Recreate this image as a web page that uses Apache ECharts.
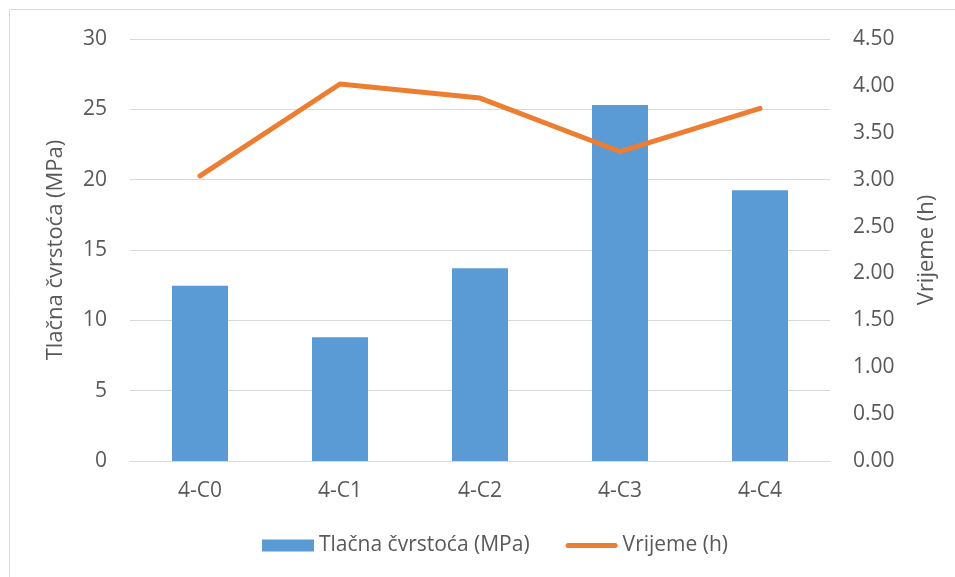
<!DOCTYPE html>
<html>
<head>
<meta charset="utf-8">
<script src="https://cdn.jsdelivr.net/npm/echarts@6/dist/echarts.min.js"></script>
<style>
  html, body { margin: 0; padding: 0; background: #fff; }
  #chart { width: 955px; height: 577px; }
</style>
</head>
<body>
<div id="chart"></div>
<script>
// podaci
const categories = ['4-C0', '4-C1', '4-C2', '4-C3', '4-C4'];
const strength = [12.45, 8.8, 13.7, 25.3, 19.25];   // Tlačna čvrstoća (MPa)
const timeHours = [3.04, 4.02, 3.87, 3.30, 3.76];   // Vrijeme (h)

const font = '"Open Sans", "Noto Sans", sans-serif';
const txt = '#595959';

const chart = echarts.init(document.getElementById('chart'));
chart.setOption({
  animation: false,
  textStyle: { fontFamily: font },
  graphic: [{
    type: 'rect',
    shape: { x: 9.5, y: 9.5, width: 960, height: 580 },
    style: { fill: 'none', stroke: '#d9d9d9', lineWidth: 1 },
    silent: true
  }],
  grid: { left: 130, right: 125, top: 39, bottom: 116 },
  legend: {
    bottom: 16,
    left: 257,
    itemWidth: 52,
    itemHeight: 12,
    itemGap: 36,
    textStyle: { color: txt, fontSize: 21, fontFamily: font },
    data: [
      { name: 'Tlačna čvrstoća (MPa)', icon: 'rect' },
      // samo linija bez kružića
      { name: 'Vrijeme (h)', icon: 'path://M2.5,0 H49.5 A2.5,2.5 0 0 1 49.5,5 H2.5 A2.5,2.5 0 0 1 2.5,0 Z' }
    ]
  },
  xAxis: {
    type: 'category',
    data: categories,
    axisLine: { lineStyle: { color: '#d9d9d9', width: 1 } },
    axisTick: { show: false },
    axisLabel: { color: txt, fontSize: 21, margin: 20 }
  },
  yAxis: [
    {
      type: 'value',
      min: 0, max: 30, interval: 5,
      name: 'Tlačna čvrstoća (MPa)',
      nameLocation: 'middle',
      nameGap: 63,
      nameTextStyle: { color: txt, fontSize: 22 },
      axisLine: { show: false },
      axisTick: { show: false },
      axisLabel: { color: txt, fontSize: 21, margin: 23 },
      splitLine: { lineStyle: { color: '#d9d9d9' } }
    },
    {
      type: 'value',
      min: 0, max: 4.5, interval: 0.5,
      name: 'Vrijeme (h)',
      nameLocation: 'middle',
      nameGap: 86,
      nameRotate: 90,
      nameTextStyle: { color: txt, fontSize: 22 },
      axisLine: { show: false },
      axisTick: { show: false },
      axisLabel: { color: txt, fontSize: 21, margin: 23, formatter: v => v.toFixed(2) },
      splitLine: { show: false }
    }
  ],
  series: [
    {
      name: 'Tlačna čvrstoća (MPa)',
      type: 'bar',
      data: strength,
      barWidth: 56,
      itemStyle: { color: '#5b9bd5' }
    },
    {
      name: 'Vrijeme (h)',
      type: 'line',
      yAxisIndex: 1,
      data: timeHours,
      symbol: 'none',
      lineStyle: { color: '#ed7d31', width: 5, cap: 'round', join: 'round' },
      itemStyle: { color: '#ed7d31' }
    }
  ]
});
</script>
</body>
</html>
